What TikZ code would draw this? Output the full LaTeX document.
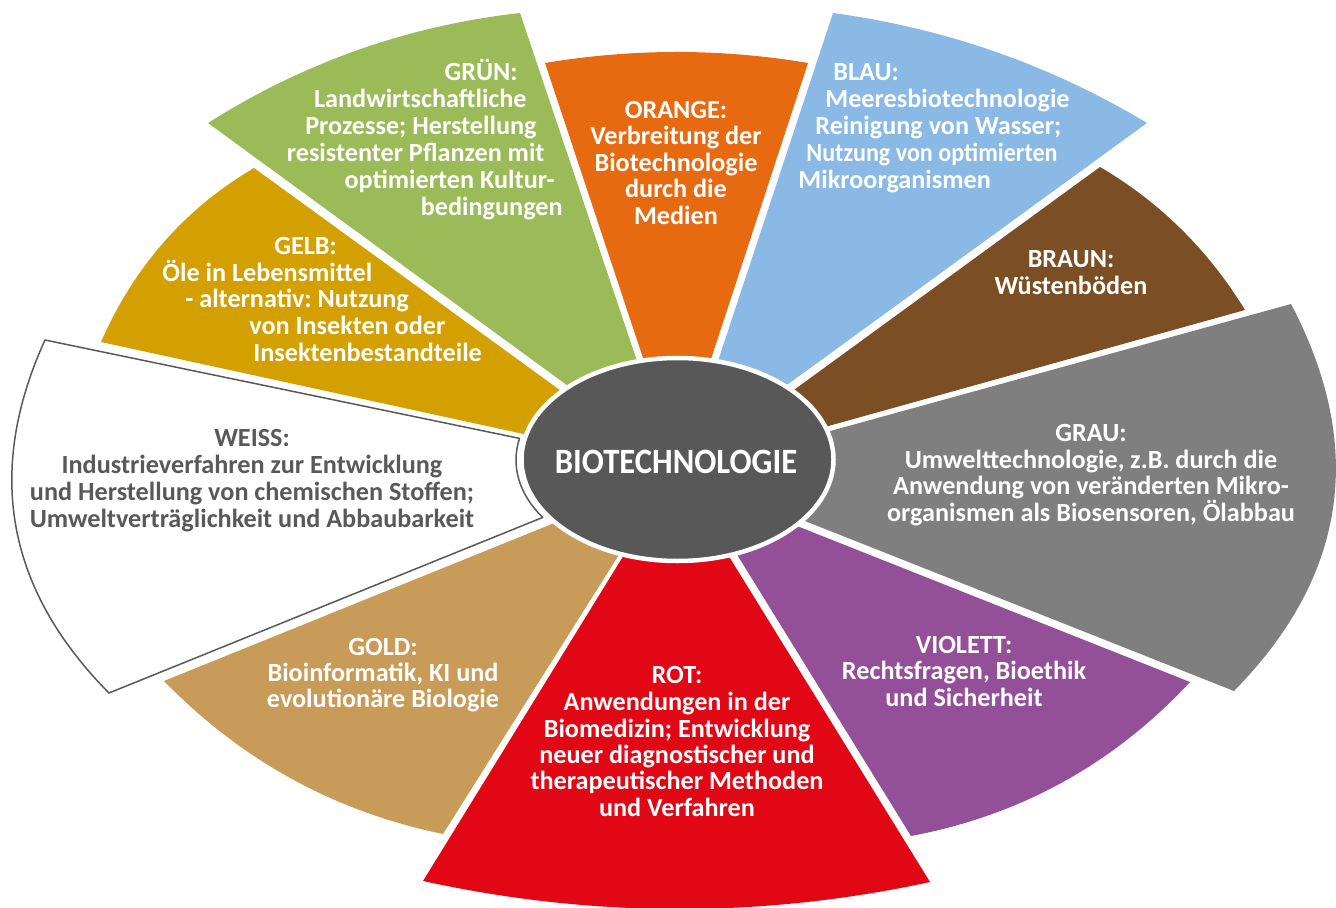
\documentclass[tikz,border=0pt]{standalone}
\usepackage{fontspec}
\usepackage{graphicx}
\setmainfont{Carlito}
\frenchspacing
\usetikzlibrary{calc}
\definecolor{gruen}{HTML}{9BBB59}
\definecolor{orangeC}{HTML}{E86A10}
\definecolor{blau}{HTML}{89B9E4}
\definecolor{braun}{HTML}{7B4E24}
\definecolor{grau}{HTML}{7F7F7F}
\definecolor{violett}{HTML}{944F99}
\definecolor{rot}{HTML}{E20714}
\definecolor{goldC}{HTML}{C99B58}
\definecolor{gelb}{HTML}{D3A000}
\definecolor{dunkel}{HTML}{585858}
\definecolor{weissgray}{HTML}{595959}
\newcommand\drawsector[6]{%
  \fill[#1] (#2) .. controls ($1.3333*(#3)-0.3333*(#4)$) and ($1.3333*(#3)-0.3333*(#2)$) .. (#4)
    -- ($(#4)!1.15!(#6)$) -- ($(#2)!1.15!(#5)$) -- cycle;}
\tikzset{
  lbl/.style={font=\fontsize{13.1}{15}\selectfont\bfseries, text=white, inner sep=0pt},
  lblR/.style={lbl, anchor=base east},
  lblL/.style={lbl, anchor=base west},
  lblC/.style={lbl, anchor=base},
  wlbl/.style={lblC, text=weissgray},
  weissline/.style={draw=weissgray, line width=0.75pt, fill=white, line join=round},
  center/.style={fill=dunkel, draw=white, line width=2.25pt}
}
\begin{document}
\begin{tikzpicture}[x=0.5pt,y=-0.5pt]
\useasboundingbox (0,0) rectangle (1336,908);
\fill[white] (0,0) rectangle (1336,908);
% corner coordinates
\coordinate (gA) at (208,123); \coordinate (gM) at (358,50); \coordinate (gB) at (520,13);
\coordinate (gAi) at (564,383); \coordinate (gBi) at (635,355);
\coordinate (oA) at (545,63); \coordinate (oM) at (677,52); \coordinate (oB) at (808,63);
\coordinate (oAi) at (642,355); \coordinate (oBi) at (713,353);
\coordinate (bA) at (833,13); \coordinate (bM) at (996,52); \coordinate (bB) at (1147,123);
\coordinate (bAi) at (720,355); \coordinate (bBi) at (791,382);
\coordinate (brA) at (1100,167); \coordinate (brM) at (1181,229); \coordinate (brB) at (1245,310);
\coordinate (brAi) at (798,387); \coordinate (brBi) at (832,425);
\coordinate (grA) at (1291,304); \coordinate (grM) at (1333,508); \coordinate (grB) at (1234,691);
\coordinate (grAi) at (834,430); \coordinate (grBi) at (810,523);
\coordinate (vA) at (1190,682); \coordinate (vM) at (1063,782); \coordinate (vB) at (911,836);
\coordinate (vAi) at (807,530); \coordinate (vBi) at (741,561);
\coordinate (rA) at (930,882); \coordinate (rM) at (677,909); \coordinate (rB) at (423,881);
\coordinate (rAi) at (733,563); \coordinate (rBi) at (619,563);
\coordinate (goA) at (443,834); \coordinate (goM) at (292,779); \coordinate (goB) at (164,681);
\coordinate (goAi) at (615,561); \coordinate (goBi) at (547,526);
\coordinate (geA) at (101,342); \coordinate (geM) at (164,242); \coordinate (geB) at (254,168);
\coordinate (geAi) at (519,433); \coordinate (geBi) at (557,388);
\coordinate (wA) at (45,340); \coordinate (wM) at (16,527); \coordinate (wB) at (109,693);
\coordinate (wAi) at (519.5,438.4);
% sectors
\drawsector{gruen}{gA}{gM}{gB}{gAi}{gBi}
\drawsector{orangeC}{oA}{oM}{oB}{oAi}{oBi}
\drawsector{blau}{bA}{bM}{bB}{bAi}{bBi}
\drawsector{braun}{brA}{brM}{brB}{brAi}{brBi}
\drawsector{grau}{grA}{grM}{grB}{grAi}{grBi}
\drawsector{violett}{vA}{vM}{vB}{vAi}{vBi}
\drawsector{rot}{rA}{rM}{rB}{rAi}{rBi}
\drawsector{goldC}{goA}{goM}{goB}{goAi}{goBi}
\drawsector{gelb}{geA}{geM}{geB}{geAi}{geBi}
\path[weissline] (wA) -- (wAi) arc[start angle=168, end angle=213.5, x radius=80.5pt, y radius=52pt]
  -- (wB) .. controls ($1.3333*(wM)-0.3333*(wA)$) and ($1.3333*(wM)-0.3333*(wB)$) .. (wA) -- cycle;
% centre
\path[center] (677.5,459.5) ellipse[x radius=78pt, y radius=50.75pt];
\node[lbl, anchor=base, font=\fontsize{16.5}{18}\selectfont\bfseries] (bio) at (676,473) {\scalebox{0.99}[1.08]{BIOTECHNOLOGIE}};
% GRUEN
\node[lblR] (gr1) at (518,80.5) {GRÜN:};
\node[lblR] (gr2) at (527,107.5) {Landwirtschaftliche};
\node[lblR] (gr3) at (537,134.5) {Prozesse; Herstellung};
\node[lblR] (gr4) at (545,161.5) {resistenter Pflanzen mit};
\node[lblR] (gr5) at (555,188.5) {optimierten Kultur-};
\node[lblR] (gr6) at (563,215.5) {bedingungen};
% ORANGE
\node[lblC] (or1) at (676,118.5) {ORANGE:};
\node[lblC] (or2) at (676,145) {Verbreitung der};
\node[lblC] (or3) at (676,171.5) {Biotechnologie};
\node[lblC] (or4) at (676,198) {durch die};
\node[lblC] (or5) at (676,224.5) {Medien};
% BLAU
\node[lblL] (bl1) at (833,80.5) {BLAU:};
\node[lblL] (bl2) at (825,107.5) {Meeresbiotechnologie};
\node[lblL] (bl3) at (815,134.5) {Reinigung von Wasser;};
\node[lblL] (bl4) at (806,161.5) {\scalebox{0.92}[1]{Nutzung von optimierten}};
\node[lblL] (bl5) at (798,188.5) {Mikroorganismen};
% BRAUN
\node[lblC] (br1) at (1071,267.5) {BRAUN:};
\node[lblC] (br2) at (1071,294.5) {Wüstenböden};
% GELB
\node[lblL] (ge1) at (274,255) {GELB:};
\node[lblL] (ge2) at (162,281.5) {Öle in Lebensmittel};
\node[lblL] (ge3) at (185,308) {- alternativ: Nutzung};
\node[lblL] (ge4) at (249,335) {von Insekten oder};
\node[lblL] (ge5) at (253,362) {Insektenbestandteile};
% WEISS
\node[wlbl] (we1) at (252,446.5) {WEISS:};
\node[wlbl] (we2) at (252,473.5) {Industrieverfahren zur Entwicklung};
\node[wlbl] (we3) at (252,500.5) {und Herstellung von chemischen Stoffen;};
\node[wlbl] (we4) at (252,527.5) {Umweltverträglichkeit und Abbaubarkeit};
% GRAU
\node[lblC] (ga1) at (1091,441.5) {GRAU:};
\node[lblC] (ga2) at (1091,468.5) {Umwelttechnologie, z.B. durch die};
\node[lblC] (ga3) at (1091,494.5) {Anwendung von veränderten Mikro-};
\node[lblC] (ga4) at (1091,521.5) {organismen als Biosensoren, Ölabbau};
% GOLD
\node[lblC] (go1) at (383,655) {GOLD:};
\node[lblC] (go2) at (383,681) {Bioinformatik, KI und};
\node[lblC] (go3) at (383,707) {evolutionäre Biologie};
% VIOLETT
\node[lblC] (vi1) at (964,653.5) {VIOLETT:};
\node[lblC] (vi2) at (964,679.5) {Rechtsfragen, Bioethik};
\node[lblC] (vi3) at (964,706.5) {und Sicherheit};
% ROT
\node[lblC] (ro1) at (677,683.5) {ROT:};
\node[lblC] (ro2) at (677,710.5) {Anwendungen in der};
\node[lblC] (ro3) at (677,737.5) {Biomedizin; Entwicklung};
\node[lblC] (ro4) at (677,763.5) {neuer diagnostischer und};
\node[lblC] (ro5) at (677,789.5) {therapeutischer Methoden};
\node[lblC] (ro6) at (677,816.5) {und Verfahren};
\end{tikzpicture}
\end{document}
